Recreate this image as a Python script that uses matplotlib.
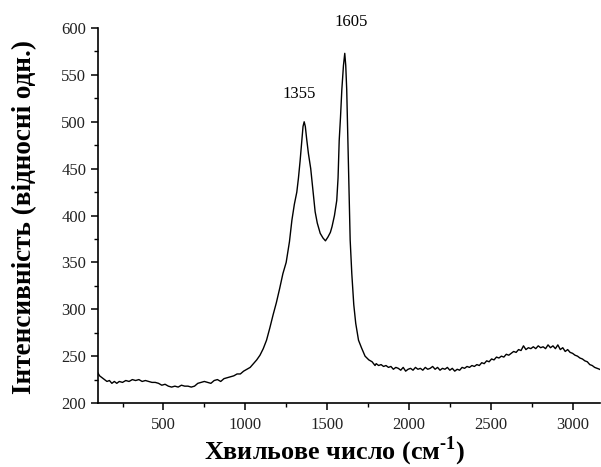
import matplotlib

matplotlib.use("Agg")
import matplotlib.pyplot as plt
from matplotlib.ticker import MultipleLocator

# Raman spectrum, values
wavenumber = [
    100, 110, 125, 140, 155, 170, 185, 200, 215, 230, 250, 270, 290, 310, 330,
    350, 370, 390, 410, 430, 450, 470, 490, 510, 530, 550, 570, 590, 610, 630,
    650, 670, 690, 710, 730, 750, 770, 790, 810, 830, 850, 870, 890, 910, 930,
    950, 970, 990, 1010, 1030, 1050, 1070, 1090, 1110, 1130, 1150, 1170, 1190,
    1210, 1230, 1250, 1270, 1285, 1300, 1315, 1325, 1335, 1346, 1353, 1360,
    1367, 1375, 1386, 1400, 1415, 1427, 1440, 1458, 1475, 1490, 1505, 1520,
    1530, 1545, 1559, 1567, 1574, 1582, 1590, 1600, 1608, 1614, 1620, 1627,
    1634, 1641, 1651, 1663, 1675, 1692, 1710, 1732, 1755, 1775, 1793,
    1800, 1815, 1830, 1845, 1860, 1875, 1890, 1905, 1920, 1935, 1950, 1965,
    1980, 1995, 2010, 2025, 2040, 2055, 2070, 2085, 2100, 2115, 2130, 2145,
    2160, 2175, 2190, 2205, 2220, 2235, 2250, 2265, 2280, 2295, 2310, 2325,
    2340, 2355, 2370, 2385, 2400, 2415, 2430, 2445, 2460, 2475, 2490, 2505,
    2520, 2535, 2550, 2565, 2580, 2595, 2610, 2625, 2640, 2655, 2670, 2685,
    2700, 2715, 2730, 2745, 2760, 2775, 2790, 2805, 2820, 2835, 2850, 2865,
    2880, 2895, 2910, 2925, 2940, 2955, 2970, 2985, 3000, 3015, 3030, 3045,
    3060, 3075, 3090, 3105, 3120, 3135, 3150, 3165, 3175,
]
intensity = [
    232, 229, 227, 225, 223, 224, 221, 223, 221, 223, 222, 224, 223, 225, 224,
    225, 223, 224, 223, 222, 222, 221, 219, 220, 218, 217, 218, 217, 219, 218,
    218, 217, 218, 221, 222, 223, 222, 221, 224, 225, 223, 226, 227, 228, 229,
    231, 231, 234, 236, 238, 242, 246, 251, 258, 267, 280, 294, 307,
    322, 338, 350, 372, 395, 412, 425, 440, 458, 480, 495, 500,
    495, 482, 466, 450, 425, 404, 392, 381, 376, 373, 377, 382,
    388, 400, 416, 440, 480, 505, 534, 560, 573, 560, 534, 480,
    425, 374, 338, 305, 285, 267, 259, 250, 246, 244, 240,
    242, 240, 241, 239, 240, 238, 239, 236, 238, 237, 235, 238,
    234, 236, 237, 235, 238, 236, 237, 235, 238, 236, 237, 239,
    236, 238, 235, 237, 236, 238, 235, 237, 234, 236, 235, 238,
    237, 239, 238, 240, 239, 241, 240, 243, 242, 245, 244, 247,
    246, 249, 248, 250, 249, 252, 251, 253, 255, 254, 257, 256,
    261, 257, 259, 258, 260, 258, 261, 259, 260, 258, 262, 259,
    261, 258, 262, 257, 259, 255, 257, 254, 253, 251, 250, 248,
    247, 245, 244, 241, 240, 238, 237, 236, 235,
]

peak_text = ["1355", "1605"]
label_x = [1330, 1645]
label_y = [530, 606]

plt.rcParams["font.family"] = ["Liberation Serif", "DejaVu Serif"]
plt.rcParams["mathtext.fontset"] = "custom"
plt.rcParams["mathtext.rm"] = "Liberation Serif:bold"
plt.rcParams["mathtext.bf"] = "Liberation Serif:bold"

fig = plt.figure(figsize=(6.01, 4.67), dpi=100)
ax = fig.add_axes([0.163, 0.137, 0.836, 0.803])

ax.plot(wavenumber, intensity, color="black", linewidth=1.0)

for x, y, t in zip(label_x, label_y, peak_text):
    ax.text(x, y, t, ha="center", va="center", fontsize=12, clip_on=False)

ax.set_xlim(100, 3170)
ax.set_ylim(200, 600)
ax.xaxis.set_major_locator(MultipleLocator(500))
ax.xaxis.set_minor_locator(MultipleLocator(250))
ax.yaxis.set_major_locator(MultipleLocator(50))
ax.yaxis.set_minor_locator(MultipleLocator(25))

ax.spines["top"].set_visible(False)
ax.spines["right"].set_visible(False)
for s in ("left", "bottom"):
    ax.spines[s].set_linewidth(1.2)
ax.tick_params(which="major", direction="out", length=5, width=1.1,
               labelsize=12, colors="black", labelcolor="#222222")
ax.tick_params(which="minor", direction="out", length=3, width=1.0)
ax.tick_params(axis="x", pad=5)

ax.set_xlabel(r"Хвильове число (см$^{\text{-1}}$)", fontsize=18.8,
              fontweight="bold", va="baseline")
ax.set_ylabel("Інтенсивність (відносні одн.)", fontsize=19.5,
              fontweight="bold", va="center")
ax.xaxis.set_label_coords(0.471, -0.151)
ax.yaxis.set_label_coords(-0.145, 0.497)

fig.savefig("out.png", dpi=100)
plt.close(fig)
